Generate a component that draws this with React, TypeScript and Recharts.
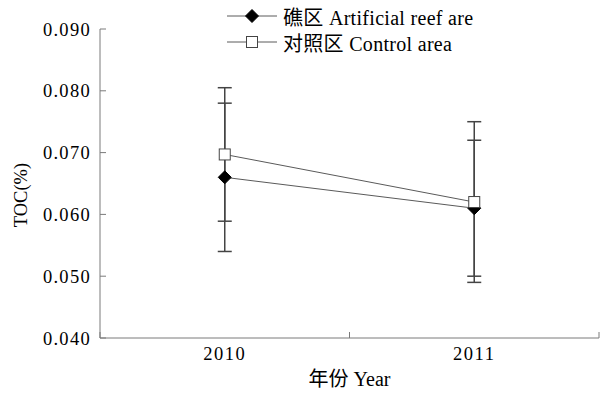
import React from "react";
import {
  LineChart,
  Line,
  XAxis,
  YAxis,
  ErrorBar,
  Legend,
  Label,
} from "recharts";

const years = ["2010", "2011"];
const reefValues = [0.066, 0.061];
const reefErrors = [0.012, 0.011];
const controlValues = [0.0697, 0.062];
const controlErrors = [0.0108, 0.013];
const yTicks = [0.04, 0.05, 0.06, 0.07, 0.08, 0.09];
const xTicks = [0, 0.5, 1, 1.5, 2];

const seriesNames = ["礁区 Artificial reef are", "对照区 Control area"];

const data = years.map((year, i) => ({
  x: i + 0.5,
  year,
  reef: reefValues[i],
  reefErr: reefErrors[i],
  control: controlValues[i],
  controlErr: controlErrors[i],
}));

const FONT = "'Liberation Serif', 'Times New Roman', 'Noto Sans CJK SC', serif";
const AXIS = "#7a7a7a";
const LINE = "#5a5a5a";

const Diamond = (props: any) => {
  const { cx, cy } = props;
  if (cx == null || cy == null) return null;
  const r = 6.5;
  return (
    <path
      d={`M${cx},${cy - r}L${cx + r},${cy}L${cx},${cy + r}L${cx - r},${cy}Z`}
      fill="#000"
      stroke="#000"
    />
  );
};

const Square = (props: any) => {
  const { cx, cy } = props;
  if (cx == null || cy == null) return null;
  const r = 5.5;
  return (
    <rect
      x={cx - r}
      y={cy - r}
      width={r * 2}
      height={r * 2}
      fill="#fff"
      stroke="#444"
      strokeWidth={1}
    />
  );
};

const XTick = (props: any) => {
  const { x, y, payload } = props;
  const v = payload.value;
  if (Number.isInteger(v)) {
    return <line x1={x} x2={x} y1={y} y2={y - 6} stroke={AXIS} />;
  }
  return (
    <text
      x={x}
      y={y + 22}
      textAnchor="middle"
      fill="#000"
      fontSize={18.5}
      fontFamily={FONT}
      letterSpacing={1.5}
    >
      {years[Math.floor(v)]}
    </text>
  );
};

const YTick = (props: any) => {
  const { x, y, payload } = props;
  return (
    <g>
      <line x1={x} x2={x + 6} y1={y} y2={y} stroke={AXIS} />
      <text
        x={x - 9}
        y={y + 6.5}
        textAnchor="end"
        fill="#000"
        fontSize={18.5}
        fontFamily={FONT}
        letterSpacing={1.3}
      >
        {payload.value.toFixed(3)}
      </text>
    </g>
  );
};

const LegendContent = () => (
  <div style={{ fontFamily: FONT, fontSize: 20, color: "#000" }}>
    {seriesNames.map((name, i) => (
      <div
        key={name}
        style={{ display: "flex", alignItems: "center", height: 26, whiteSpace: "nowrap" }}
      >
        <svg width={52} height={14} style={{ marginRight: 4 }}>
          <line x1={0} x2={50} y1={7} y2={7} stroke={LINE} />
          {i === 0 ? <Diamond cx={25} cy={7} /> : <Square cx={25} cy={7} />}
        </svg>
        <span style={{ letterSpacing: 0.3 }}>{name}</span>
      </div>
    ))}
  </div>
);

export default function App() {
  return (
    <div style={{ position: "absolute", left: 0, top: 0, background: "#fff", overflow: "hidden", width: 609, height: 400 }}>
      <LineChart
        width={609}
        height={400}
        data={data}
        margin={{ top: 29, right: 10, bottom: 12, left: 40 }}
      >
        <XAxis
          dataKey="x"
          type="number"
          domain={[0, 2]}
          ticks={xTicks}
          interval={0}
          tick={<XTick />}
          tickLine={false}
          tickSize={0}
          tickMargin={0}
          stroke={AXIS}
          height={50}
        >
          <Label
            value="年份 Year"
            position="insideBottom"
            offset={2}
            fill="#000"
            fontSize={20}
            fontFamily={FONT}
          />
        </XAxis>
        <YAxis
          type="number"
          domain={[0.04, 0.09]}
          ticks={yTicks}
          interval={0}
          tick={<YTick />}
          tickLine={false}
          tickSize={0}
          tickMargin={0}
          stroke={AXIS}
          width={60}
        >
          <Label
            content={() => (
              <text
                x={27}
                y={195}
                transform="rotate(-90 27 195)"
                textAnchor="middle"
                fill="#000"
                fontSize={18.5}
                fontFamily={FONT}
              >
                TOC(%)
              </text>
            )}
          />
        </YAxis>
        <Legend
          layout="vertical"
          align="center"
          verticalAlign="middle"
          wrapperStyle={{ left: 227, top: 3, width: 380 }}
          content={<LegendContent />}
        />
        <Line
          dataKey="reef"
          name={seriesNames[0]}
          stroke={LINE}
          strokeWidth={1}
          dot={<Diamond />}
          activeDot={false}
          isAnimationActive={false}
        >
          <ErrorBar dataKey="reefErr" direction="y" width={7} stroke="#444" />
        </Line>
        <Line
          dataKey="control"
          name={seriesNames[1]}
          stroke={LINE}
          strokeWidth={1}
          dot={<Square />}
          activeDot={false}
          isAnimationActive={false}
        >
          <ErrorBar dataKey="controlErr" direction="y" width={7} stroke="#444" />
        </Line>
      </LineChart>
    </div>
  );
}
